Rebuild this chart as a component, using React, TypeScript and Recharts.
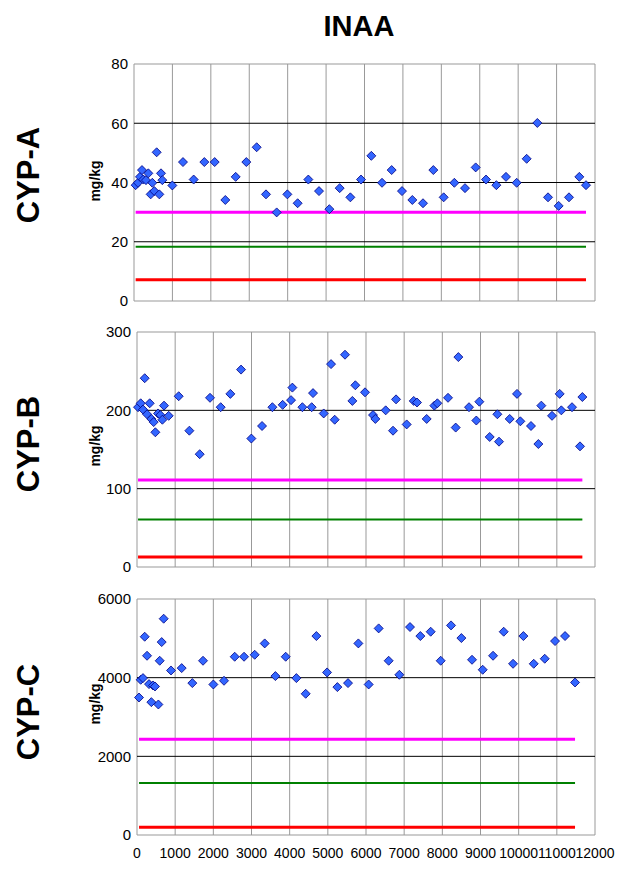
import {
  ComposedChart,
  XAxis,
  YAxis,
  Scatter,
  ReferenceLine,
  ReferenceArea,
} from "recharts";

const font = "'Liberation Sans', Arial, sans-serif";

const xTicks = [0, 1000, 2000, 3000, 4000, 5000, 6000, 7000, 8000, 9000, 10000, 11000, 12000];

// [sample position, value in mg/kg]
const cypA = [
  [43, 39.1], [104, 39.9], [156, 41.9], [208, 44.2], [243, 41.0], [312, 40.8], [373, 43.1],
  [434, 36.0], [477, 39.9], [529, 37.1], [590, 50.2], [659, 36.0], [703, 43.1], [737, 40.8],
  [998, 39.0], [1275, 46.9], [1553, 41.0], [1831, 46.9], [2100, 46.9], [2377, 34.1], [2647, 41.9],
  [2924, 46.9], [3193, 51.9], [3436, 36.0], [3714, 29.9], [3992, 36.0], [4260, 33.0], [4538, 41.0],
  [4816, 37.1], [5085, 31.0], [5354, 38.1], [5632, 35.0], [5909, 41.0], [6178, 49.0], [6456, 39.9],
  [6707, 44.2], [6976, 37.1], [7245, 34.1], [7523, 33.0], [7792, 44.2], [8061, 35.0], [8339, 39.9],
  [8616, 38.1], [8894, 45.1], [9163, 41.0], [9432, 39.1], [9683, 41.9], [9961, 39.9], [10221, 48.0],
  [10499, 60.1], [10777, 35.0], [11054, 32.1], [11323, 35.0], [11592, 41.9], [11766, 39.1],
];
const cypATicks = [0, 20, 40, 60, 80];
const cypALimits = [30, 18.3, 7.2];

const cypB = [
  [27, 204], [97, 209], [158, 201], [202, 241], [263, 195], [333, 209], [376, 189], [437, 185],
  [481, 172], [551, 196], [612, 194], [665, 188], [708, 206], [831, 193], [1093, 218], [1372, 174],
  [1643, 144], [1913, 216], [2193, 204], [2446, 221], [2726, 252], [2996, 164], [3276, 180],
  [3547, 204], [3817, 207], [4036, 213], [4071, 229], [4333, 204], [4577, 204], [4612, 222],
  [4892, 196], [5084, 259], [5180, 188], [5450, 271], [5643, 212], [5721, 232], [5974, 223],
  [6184, 194], [6245, 189], [6516, 200], [6708, 174], [6787, 214], [7066, 182], [7250, 212],
  [7337, 210], [7590, 189], [7791, 206], [7870, 209], [8149, 216], [8350, 178], [8420, 268],
  [8699, 204], [8891, 187], [8970, 211], [9241, 166], [9442, 195], [9485, 160], [9765, 189],
  [9957, 221], [10044, 186], [10323, 180], [10516, 157], [10594, 206], [10874, 193], [11075, 221],
  [11118, 200], [11398, 204], [11607, 154], [11669, 217],
];
const cypBTicks = [0, 100, 200, 300];
const cypBLimits = [111, 60.7, 12.8];

const cypC = [
  [53, 3495], [97, 3946], [158, 3989], [202, 5041], [263, 4557], [315, 3836], [376, 3378],
  [420, 3802], [472, 3776], [560, 3318], [595, 4430], [647, 4905], [699, 5499], [891, 4183],
  [1171, 4243], [1450, 3862], [1730, 4430], [2001, 3827], [2280, 3921], [2560, 4532], [2805, 4532],
  [3084, 4582], [3346, 4871], [3626, 4040], [3896, 4532], [4176, 3989], [4420, 3590], [4700, 5058],
  [4979, 4133], [5250, 3760], [5529, 3862], [5800, 4871], [6070, 3827], [6332, 5253], [6594, 4430],
  [6874, 4073], [7153, 5287], [7424, 5058], [7695, 5168], [7957, 4430], [8228, 5329], [8499, 5007],
  [8778, 4455], [9058, 4201], [9329, 4557], [9608, 5168], [9853, 4353], [10124, 5058], [10395, 4353],
  [10683, 4481], [10953, 4931], [11215, 5058], [11477, 3878],
];
const cypCTicks = [0, 2000, 4000, 6000];
const cypCLimits = [2436, 1324, 195];

const limitColors = ["#ff00ff", "#008000", "#ff0000"];
const limitWidths = [3, 2, 3];

function Diamond(props: any) {
  const { cx, cy } = props;
  if (cx == null || cy == null) return null;
  const r = 4.5;
  return (
    <polygon
      points={`${cx},${cy - r} ${cx + r},${cy} ${cx},${cy + r} ${cx - r},${cy}`}
      fill="#3366ff"
      stroke="#000080"
      strokeWidth={0.8}
    />
  );
}

function Panel({ points, yTicks, limits, top, height, margin, yWidth, showX }: any) {
  const data = points.map(([x, y]: number[]) => ({ x, y }));
  const x0 = points[0][0];
  const x1 = points[points.length - 1][0];
  const yMax = yTicks[yTicks.length - 1];
  return (
    <div style={{ position: "absolute", left: 0, top }}>
      <ComposedChart width={619} height={height} margin={margin} data={data}>
        <XAxis
          type="number"
          dataKey="x"
          domain={[0, 12000]}
          ticks={xTicks}
          interval={0}
          hide={!showX}
          height={30}
          axisLine={false}
          tickLine={false}
          tickSize={0}
          tickMargin={13}
          tick={{ fill: "#000", fontSize: 14, fontFamily: font }}
        />
        <YAxis
          type="number"
          dataKey="y"
          domain={[0, yMax]}
          ticks={yTicks}
          interval={0}
          width={yWidth}
          axisLine={false}
          tickLine={false}
          tickSize={0}
          tickMargin={6}
          tick={{ fill: "#000", fontSize: 15, fontFamily: font }}
        />
        {xTicks.slice(1, -1).map((t) => (
          <ReferenceLine key={"gx" + t} x={t} stroke="#999" />
        ))}
        {yTicks.slice(1, -1).map((t: number) => (
          <ReferenceLine key={"gy" + t} y={t} stroke="#000" />
        ))}
        <ReferenceArea x1={0} x2={12000} y1={0} y2={yMax} fill="none" stroke="#999" />
        {limits.map((v: number, i: number) => (
          <ReferenceLine
            key={"lim" + i}
            segment={[{ x: x0, y: v }, { x: x1, y: v }]}
            stroke={limitColors[i]}
            strokeWidth={limitWidths[i]}
          />
        ))}
        <Scatter data={data} dataKey="y" shape={Diamond} isAnimationActive={false} />
      </ComposedChart>
    </div>
  );
}

export default function App() {
  const sideLabels = [
    { name: "CYP-A", cy: 175, unitY: 181 },
    { name: "CYP-B", cy: 444, unitY: 446 },
    { name: "CYP-C", cy: 712, unitY: 704 },
  ];
  return (
    <div style={{ position: "relative", width: 619, height: 878, background: "#fff" }}>
      <style>{"body{margin:0}"}</style>
      <Panel points={cypA} yTicks={cypATicks} limits={cypALimits} top={0} height={320}
        margin={{ top: 64, right: 24, bottom: 19, left: 104 }} yWidth={30} showX={false} />
      <Panel points={cypB} yTicks={cypBTicks} limits={cypBLimits} top={310} height={280}
        margin={{ top: 22, right: 24, bottom: 23, left: 77 }} yWidth={60} showX={false} />
      <Panel points={cypC} yTicks={cypCTicks} limits={cypCLimits} top={580} height={298}
        margin={{ top: 19, right: 24, bottom: 13, left: 77 }} yWidth={60} showX={true} />
      <svg width={619} height={878} style={{ position: "absolute", left: 0, top: 0, pointerEvents: "none" }}>
        <text x={359} y={36} textAnchor="middle" fontFamily={font} fontWeight="bold" fontSize={29}>
          INAA
        </text>
        {sideLabels.map((s) => (
          <g key={s.name}>
            <text transform={`translate(28,${s.cy}) rotate(-90)`} textAnchor="middle"
              dominantBaseline="central" fontFamily={font} fontWeight="bold" fontSize={31}>
              {s.name}
            </text>
            <text transform={`translate(95,${s.unitY}) rotate(-90)`} textAnchor="middle"
              dominantBaseline="central" fontFamily={font} fontWeight="bold" fontSize={14}>
              mg/kg
            </text>
          </g>
        ))}
      </svg>
    </div>
  );
}
